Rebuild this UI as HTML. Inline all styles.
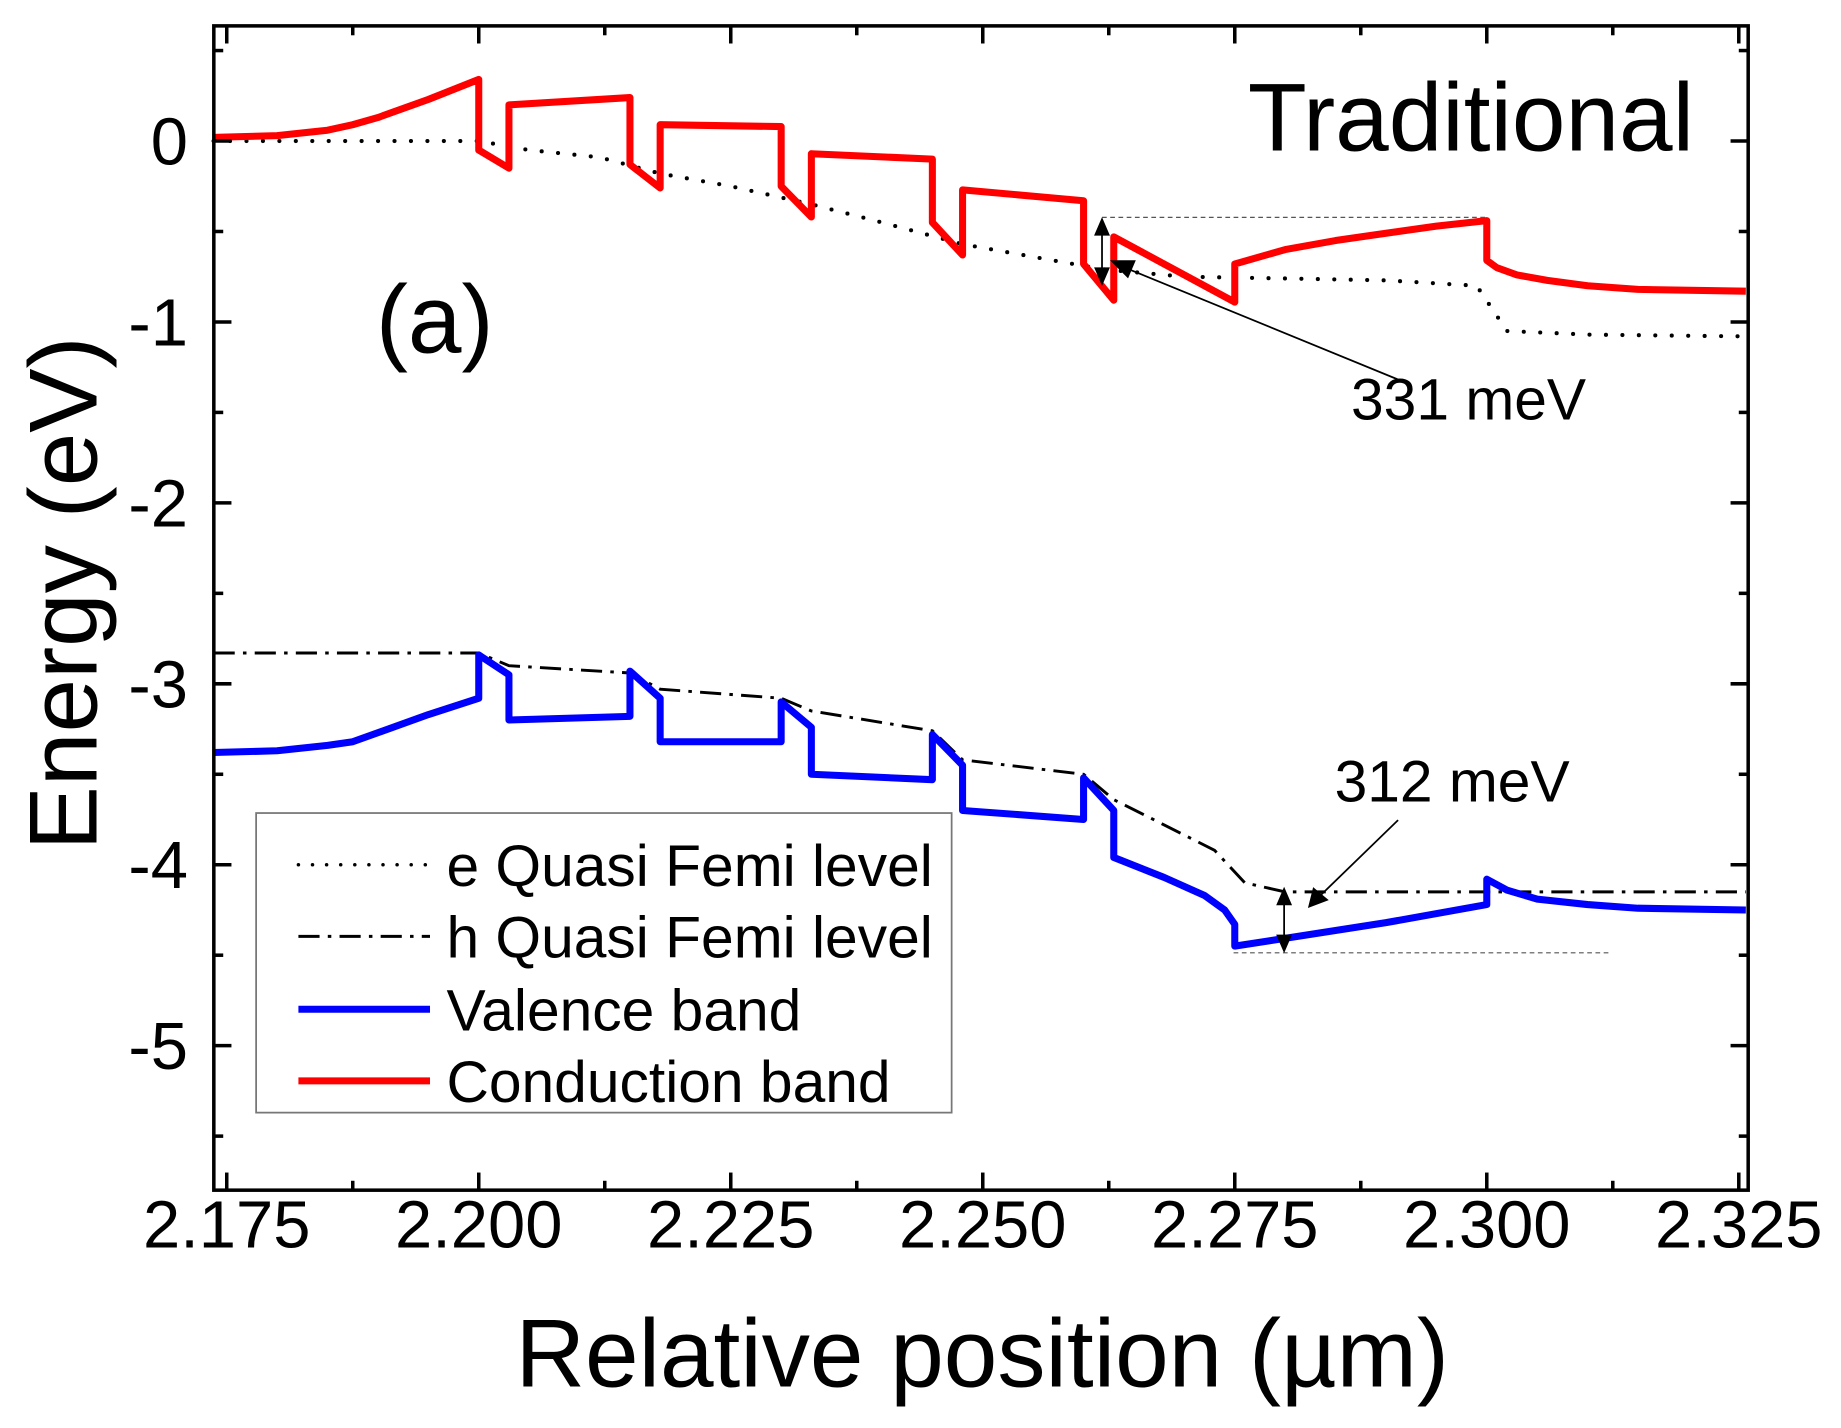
<!DOCTYPE html>
<html><head><meta charset="utf-8"><style>
html,body{margin:0;padding:0;background:#fff;}
svg{display:block;font-family:"Liberation Sans",Arial,sans-serif;}
</style></head><body>
<svg id="chart" width="1841" height="1428" viewBox="0 0 1567 1215.4" xmlns="http://www.w3.org/2000/svg">
<g id="marks"></g>
<g id="axes"></g>
</svg>
<script>
const cbX=[2.1737,2.180,2.185,2.1875,2.190,2.195,2.200,2.200,2.203,2.203,2.215,2.215,2.218,2.218,2.230,2.230,2.233,2.233,2.245,2.245,2.248,2.248,2.260,2.260,2.263,2.263,2.275,2.275,2.280,2.285,2.290,2.295,2.300,2.300,2.301,2.303,2.306,2.310,2.315,2.3257];
const cbY=[0.02,0.03,0.06,0.09,0.13,0.23,0.34,-0.05,-0.15,0.2,0.24,-0.13,-0.26,0.09,0.08,-0.25,-0.42,-0.07,-0.1,-0.45,-0.63,-0.27,-0.33,-0.68,-0.88,-0.53,-0.89,-0.68,-0.6,-0.55,-0.51,-0.47,-0.44,-0.66,-0.7,-0.74,-0.77,-0.8,-0.82,-0.83];
const vbX=[2.1737,2.180,2.185,2.1875,2.190,2.195,2.200,2.200,2.203,2.203,2.215,2.215,2.218,2.218,2.230,2.230,2.233,2.233,2.245,2.245,2.248,2.248,2.260,2.260,2.263,2.263,2.268,2.272,2.274,2.275,2.275,2.290,2.300,2.300,2.302,2.305,2.310,2.315,2.3257];
const vbY=[-3.38,-3.37,-3.34,-3.32,-3.27,-3.17,-3.08,-2.84,-2.95,-3.2,-3.18,-2.93,-3.08,-3.32,-3.32,-3.1,-3.24,-3.5,-3.53,-3.28,-3.45,-3.7,-3.75,-3.52,-3.7,-3.96,-4.07,-4.17,-4.25,-4.33,-4.45,-4.32,-4.22,-4.08,-4.14,-4.19,-4.22,-4.24,-4.25];
const efX=[2.1737,2.200,2.205,2.212,2.218,2.225,2.233,2.240,2.248,2.255,2.262,2.270,2.280,2.290,2.299,2.302,2.310,2.3257];
const efY=[0,0,-0.05,-0.09,-0.18,-0.25,-0.35,-0.45,-0.57,-0.64,-0.71,-0.75,-0.76,-0.77,-0.8,-1.05,-1.07,-1.08];
const hfX=[2.1737,2.200,2.203,2.215,2.218,2.230,2.233,2.245,2.248,2.260,2.263,2.268,2.273,2.276,2.280,2.3257];
const hfY=[-2.83,-2.83,-2.9,-2.94,-3.03,-3.08,-3.15,-3.26,-3.42,-3.5,-3.64,-3.78,-3.92,-4.1,-4.15,-4.15];
const xTicks=[2.175,2.200,2.225,2.250,2.275,2.300,2.325];
const xTickLabels=["2.175","2.200","2.225","2.250","2.275","2.300","2.325"];
const yTicks=[0,-1,-2,-3,-4,-5];
const yTickLabels=["0","-1","-2","-3","-4","-5"];

const NS="http://www.w3.org/2000/svg";
const L=182,R=1488,T=22,B=1013;
const sx=v=>193+(v-2.175)/0.025*214.5;
const sy=v=>120-v*154;
const marks=document.getElementById('marks'),axes=document.getElementById('axes');
function mk(tag,attrs,parent){const e=document.createElementNS(NS,tag);for(const k in attrs)e.setAttribute(k,attrs[k]);parent.appendChild(e);return e;}
function path(xs,ys){return xs.map((x,i)=>(i?'L':'M')+sx(x).toFixed(1)+' '+sy(ys[i]).toFixed(1)).join(' ');}

let p;
p=mk('path',{d:path(efX,efY),fill:'none',stroke:'#000','stroke-width':3.5,'stroke-dasharray':'0 14','stroke-linecap':'round'},marks);


p=mk('path',{d:path(hfX,hfY),fill:'none',stroke:'#000','stroke-width':2.5,'stroke-dasharray':'18 7 3 7'},marks);


p=mk('path',{d:path(vbX,vbY),fill:'none',stroke:'#0000ff','stroke-width':6,'stroke-linejoin':'round'},marks);


p=mk('path',{d:path(cbX,cbY),fill:'none',stroke:'#ff0000','stroke-width':6,'stroke-linejoin':'round'},marks);



p=mk('rect',{x:L,y:T,width:R-L,height:B-T,fill:'none',stroke:'#000','stroke-width':3},axes);


xTicks.forEach((v,i)=>{
  const x=sx(v);
  mk('line',{x1:x,y1:B,x2:x,y2:B-15,stroke:'#000','stroke-width':3},axes);
  mk('line',{x1:x,y1:T,x2:x,y2:T+15,stroke:'#000','stroke-width':3},axes);
  if(i<xTicks.length-1){const m=sx(v+0.0125);
    mk('line',{x1:m,y1:B,x2:m,y2:B-8,stroke:'#000','stroke-width':3},axes);
    mk('line',{x1:m,y1:T,x2:m,y2:T+8,stroke:'#000','stroke-width':3},axes);}
  const t=mk('text',{x:x,y:1062,'font-size':57,'text-anchor':'middle'},axes);t.textContent=xTickLabels[i];
  
  
});
for(let v=0.5;v>=-5.5;v-=0.5){
  const y=sy(v);const major=Math.abs(v-Math.round(v))<1e-6;const len=major?15:8;
  mk('line',{x1:L,y1:y,x2:L+len,y2:y,stroke:'#000','stroke-width':3},axes);
  mk('line',{x1:R,y1:y,x2:R-len,y2:y,stroke:'#000','stroke-width':3},axes);
}
yTicks.forEach((v,i)=>{
  const t=mk('text',{x:160,y:sy(v)+20,'font-size':57,'text-anchor':'end'},axes);t.textContent=yTickLabels[i];
  
  
});
function txt(s,attrs,name){const t=mk('text',attrs,axes);t.textContent=s;
  
  return t;}
txt('Relative position (µm)',{x:836,y:1180,'font-size':82,'text-anchor':'middle'},'x-axis-title');
txt('Energy (eV)',{x:0,y:0,'font-size':82,'text-anchor':'middle',transform:'translate(82,505) rotate(-90)'},'y-axis-title');
txt('Traditional',{x:1252,y:128,'font-size':82,'text-anchor':'middle'},'panel-title');
txt('(a)',{x:370,y:300,'font-size':82,'text-anchor':'middle'},'panel-label');
txt('331 meV',{x:1250,y:357,'font-size':50,'text-anchor':'middle'},'annotation-331-mev');
txt('312 meV',{x:1236,y:682,'font-size':50,'text-anchor':'middle'},'annotation-312-mev');

const ax=mk('g',{stroke:'#000'},axes);
mk('line',{x1:938,y1:185,x2:1265,y2:185,'stroke-width':1,'stroke-dasharray':'4 3',stroke:'#555'},ax);
mk('line',{x1:938,y1:188,x2:938,y2:240,'stroke-width':1.5},ax);
mk('path',{d:'M932 200 L938 186 L944 200 Z M932 228 L938 242 L944 228 Z',fill:'#000'},ax);
mk('line',{x1:1190,y1:323,x2:958,y2:228,'stroke-width':1.5},ax);
mk('path',{d:'M946 222 L966 222 L960 236 Z',fill:'#000'},ax);
mk('line',{x1:1050,y1:811,x2:1372,y2:811,'stroke-width':1,'stroke-dasharray':'4 3',stroke:'#555'},ax);
mk('line',{x1:1093,y1:758,x2:1093,y2:808,'stroke-width':1.5},ax);
mk('path',{d:'M1087 770 L1093 756 L1099 770 Z M1087 796 L1093 810 L1099 796 Z',fill:'#000'},ax);
mk('line',{x1:1190,y1:698,x2:1122,y2:764,'stroke-width':1.5},ax);
mk('path',{d:'M1114 772 L1118 756 L1130 766 Z',fill:'#000'},ax);

const lg=mk('g',{},axes);


mk('rect',{x:218,y:692,width:592,height:255,fill:'#fff',stroke:'#777','stroke-width':1.5},lg);
const entries=[['e Quasi Femi level',736,{stroke:'#000','stroke-width':3,'stroke-dasharray':'0 12','stroke-linecap':'round'}],
 ['h Quasi Femi level',797,{stroke:'#000','stroke-width':2.5,'stroke-dasharray':'18 7 3 7'}],
 ['Valence band',859,{stroke:'#0000ff','stroke-width':6}],
 ['Conduction band',920,{stroke:'#ff0000','stroke-width':6}]];
entries.forEach(e=>{
  const g=mk('g',{},lg);
  
  
  mk('line',Object.assign({x1:254,y1:e[1],x2:366,y2:e[1]},e[2]),g);
  const t=mk('text',{x:380,y:e[1]+18,'font-size':50},g);t.textContent=e[0];
});
</script>
</body></html>
